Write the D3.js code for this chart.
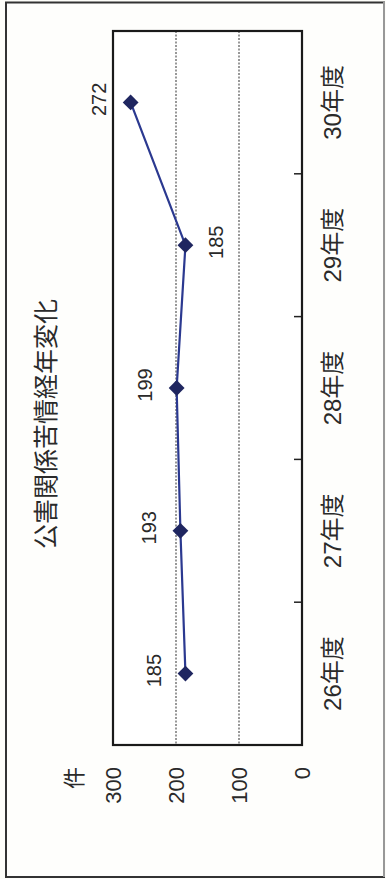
<!DOCTYPE html>
<html><head><meta charset="utf-8">
<script src="https://cdn.jsdelivr.net/npm/d3@7"></script>
<style>
html,body{margin:0;padding:0;background:#fdfdf9;}
svg{display:block;}
text{font-family:"Liberation Sans","Noto Sans CJK JP",sans-serif;fill:#2a2a2a;}
</style></head>
<body>
<script>
const title = "公害関係苦情経年変化";
const unitLabel = "件";
const categories = ["26年度","27年度","28年度","29年度","30年度"];
const values = [185, 193, 199, 185, 272];
const valueTicks = [0, 100, 200, 300];
const gridValues = [100, 200];

const W = 386, H = 879;
const svg = d3.select("body").append("svg").attr("width", W).attr("height", H);

// outer frame
svg.append("rect").attr("x", 6).attr("y", 2.5).attr("width", 378).attr("height", 874.5)
  .attr("fill", "#fefefc").attr("stroke", "#333").attr("stroke-width", 2);
svg.append("line").attr("x1", 384).attr("x2", 384).attr("y1", 2).attr("y2", 877)
  .attr("stroke", "#bbb").attr("stroke-width", 1.5);

const plot = {left: 113, right: 302, top: 31, bottom: 745};
const x = d3.scaleLinear().domain([0, 300]).range([plot.right, plot.left]);
const y = d3.scaleBand().domain(categories.slice().reverse()).range([plot.top, plot.bottom]).padding(0);
const yc = c => y(c) + y.bandwidth() / 2;

// plot background
svg.append("rect").attr("x", plot.left).attr("y", plot.top)
  .attr("width", plot.right - plot.left).attr("height", plot.bottom - plot.top)
  .attr("fill", "#ffffff");

// gridlines
svg.selectAll("line.grid").data(gridValues).join("line").attr("class", "grid")
  .attr("x1", d => x(d)).attr("x2", d => x(d))
  .attr("y1", plot.top).attr("y2", plot.bottom)
  .attr("stroke", "#777").attr("stroke-width", 1.5).attr("stroke-dasharray", "2,1.5");

// category tick marks (inward from the right edge)
const catAxis = d3.axisLeft(y).tickSize(8).tickFormat("");
const boundaries = categories.slice(1).map(c => y(c) + y.bandwidth());
svg.selectAll("line.ctick").data(boundaries).join("line").attr("class", "ctick")
  .attr("x1", plot.right - 8).attr("x2", plot.right)
  .attr("y1", d => d).attr("y2", d => d)
  .attr("stroke", "#222").attr("stroke-width", 1.5);

// plot border
svg.append("rect").attr("x", plot.left).attr("y", plot.top)
  .attr("width", plot.right - plot.left).attr("height", plot.bottom - plot.top)
  .attr("fill", "none").attr("stroke", "#1a1a1a").attr("stroke-width", 2.2);

// value tick labels
svg.selectAll("text.vtick").data(valueTicks).join("text").attr("class", "vtick")
  .attr("transform", d => `translate(${x(d)},767) rotate(-90)`)
  .attr("text-anchor", "end").attr("dy", "0.36em")
  .style("font-size", "22px")
  .text(d => d);

// unit label
svg.append("text")
  .attr("transform", "translate(74,778) rotate(-90)")
  .attr("text-anchor", "middle").attr("dy", "0.36em")
  .style("font-size", "22px").style("font-family", "'Noto Sans CJK JP',sans-serif")
  .text(unitLabel);

// category labels
svg.selectAll("text.cat").data(categories).join("text").attr("class", "cat")
  .attr("transform", d => `translate(332.5,${yc(d)}) rotate(-90)`)
  .attr("text-anchor", "middle").attr("dy", "0.36em")
  .style("font-size", "24px")
  .text(d => d);

// title
svg.append("text")
  .attr("transform", "translate(45.5,424) rotate(-90)")
  .attr("text-anchor", "middle").attr("dy", "0.36em")
  .style("font-size", "25px").style("font-family", "'Noto Sans CJK JP',sans-serif")
  .text(title);

// line
const data = categories.map((c, i) => ({c, v: values[i], i}));
const line = d3.line().x(d => x(d.v)).y(d => yc(d.c));
svg.append("path").datum(data).attr("d", line)
  .attr("fill", "none").attr("stroke", "#2b3990").attr("stroke-width", 2.2);

// markers
svg.selectAll("path.mk").data(data).join("path").attr("class", "mk")
  .attr("d", d3.symbol().type(d3.symbolSquare).size(125))
  .attr("transform", d => `translate(${x(d.v)},${yc(d.c)}) rotate(45)`)
  .attr("fill", "#1f2660");

// data labels
function labelBelow(d) {
  const next = values[d.i + 1];
  return next !== undefined && next - d.v > 50;
}
svg.selectAll("text.dl").data(data).join("text").attr("class", "dl")
  .attr("transform", d => `translate(${x(d.v) + (labelBelow(d) ? 30 : -32)},${yc(d.c) - 3}) rotate(-90)`)
  .attr("text-anchor", "middle").attr("dy", "0.36em")
  .style("font-size", "20px")
  .text(d => d.v);
</script>
</body></html>
